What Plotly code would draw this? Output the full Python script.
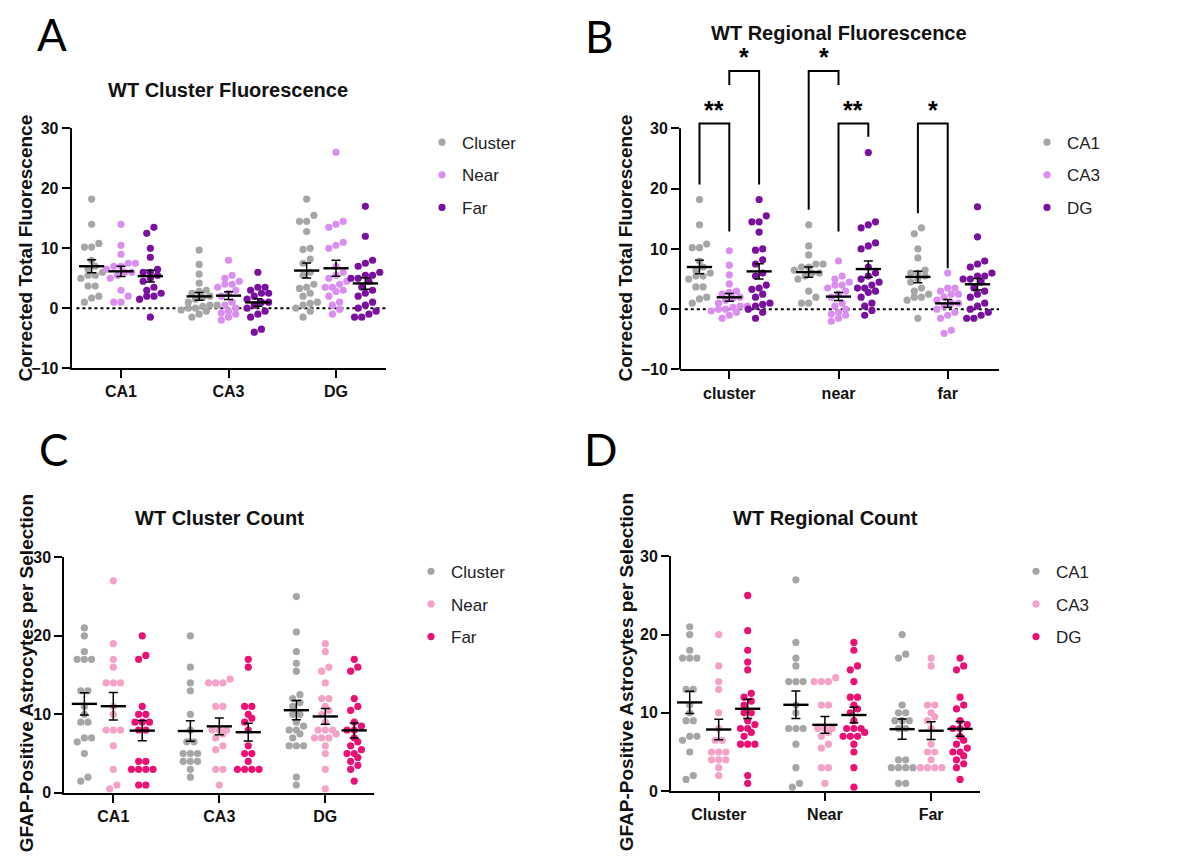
import numpy as np
import plotly.graph_objects as go

# ---------------- data ----------------
REGIONS = ["CA1", "CA3", "DG"]
DISTANCES = ["Cluster", "Near", "Far"]
B_TICKS = ["cluster", "near", "far"]
D_TICKS = ["Cluster", "Near", "Far"]

# Corrected total fluorescence (panels A and B)
FL_CA1_CLUSTER = [18.2, 14, 10.8, 10.2, 10.2, 8, 7, 6.5, 6, 5.5, 5.5, 5, 3.7, 3.7, 2, 1.7, 1]
FL_CA1_NEAR = [14, 10.5, 9, 7.5, 7.5, 7, 7, 6.5, 6, 6, 5.5, 5, 3, 2, 1, 1]
FL_CA1_FAR = [13.5, 12.5, 10, 8.5, 6.5, 6, 6, 5.5, 5, 4.5, 3.5, 3, 2.5, 2, 2, 1.5, -1.5]
FL_CA3_CLUSTER = [9.7, 7.3, 5.7, 4.2, 3, 2.8, 2.5, 2, 1.8, 1.5, 1, 0.5, 0.5, 0.3, 0, 0, -0.3, -0.5, -1, -1.5]
FL_CA3_NEAR = [8, 5.5, 5, 4.5, 4, 4, 3.5, 3, 2.5, 2, 1, 0.5, 0, -0.5, -0.8, -1, -1.5, -2]
FL_CA3_FAR = [6, 3.5, 3.5, 3, 2.5, 2.5, 2, 1.5, 1, 1, 0.5, 0, -0.5, -1, -1.5, -3.5, -4]
FL_DG_CLUSTER = [18.2, 15.5, 14.5, 14.5, 12.8, 10, 9.8, 8.2, 7.5, 6, 5.5, 4, 3.5, 3.3, 2.5, 2, 1, 0.8, 0.5, 0, -0.5, -1.5]
FL_DG_NEAR = [26, 14.5, 14, 13.5, 11, 10.5, 10, 7, 6, 5.5, 5, 4.5, 4, 3.5, 3.5, 3, 2.8, 2, 1, 0.5, -0.2, -1]
FL_DG_FAR = [17, 12, 8, 7.5, 7, 6, 5.5, 5.5, 5, 5, 4.5, 3.5, 3, 2.5, 2, 1, 0.5, 0, -0.5, -1, -1.5, -1.5]

# GFAP-positive astrocytes per selection (panels C and D)
CNT_CA1_CLUSTER = [21, 20, 18, 17, 17, 17, 13, 13, 11, 10, 9, 9, 7, 7, 6.5, 5, 2, 1.5]
CNT_CA1_NEAR = [27, 19, 17, 16, 14, 14, 14, 11, 10, 8, 8, 8, 6, 3, 1, 0.5]
CNT_CA1_FAR = [20, 17.5, 17, 11, 10, 10, 9, 9, 9, 8, 8, 4, 4, 3, 3, 3, 3, 1, 1]
CNT_CA3_CLUSTER = [20, 16, 14, 13, 10, 8, 6.5, 6.5, 5, 5, 5, 4, 4, 4, 3, 2]
CNT_CA3_NEAR = [14.5, 14, 14, 14, 11, 11, 8, 8, 8, 7.5, 7, 6, 5.5, 3, 3, 1]
CNT_CA3_FAR = [17, 16, 11, 11, 10, 9.5, 9, 8, 6, 5, 5, 4, 3, 3, 3, 3]
CNT_DG_CLUSTER = [25, 20.5, 18, 16.5, 15.5, 12.5, 12, 11.5, 11, 10, 10, 9, 8.5, 8, 8, 7.5, 7, 6, 6, 6, 2, 1]
CNT_DG_NEAR = [19, 18, 16, 15.5, 14, 12, 12, 11, 10.5, 10, 9, 8, 8, 8, 7.5, 7, 7, 7, 6, 5, 3, 0.5]
CNT_DG_FAR = [17, 16, 15.5, 12, 11, 10.5, 9, 8.5, 8, 8, 7, 6.5, 6, 5.5, 5, 5, 4.5, 4, 3.5, 3, 1.5]

FLUOR = {
    ("CA1", "Cluster"): FL_CA1_CLUSTER, ("CA1", "Near"): FL_CA1_NEAR, ("CA1", "Far"): FL_CA1_FAR,
    ("CA3", "Cluster"): FL_CA3_CLUSTER, ("CA3", "Near"): FL_CA3_NEAR, ("CA3", "Far"): FL_CA3_FAR,
    ("DG", "Cluster"): FL_DG_CLUSTER, ("DG", "Near"): FL_DG_NEAR, ("DG", "Far"): FL_DG_FAR,
}
COUNT = {
    ("CA1", "Cluster"): CNT_CA1_CLUSTER, ("CA1", "Near"): CNT_CA1_NEAR, ("CA1", "Far"): CNT_CA1_FAR,
    ("CA3", "Cluster"): CNT_CA3_CLUSTER, ("CA3", "Near"): CNT_CA3_NEAR, ("CA3", "Far"): CNT_CA3_FAR,
    ("DG", "Cluster"): CNT_DG_CLUSTER, ("DG", "Near"): CNT_DG_NEAR, ("DG", "Far"): CNT_DG_FAR,
}

# Significance brackets of panel B: (category, group a, group b, top, leg a end, leg b end, label)
SIG_B = [
    ("Cluster", "CA1", "CA3", 30.8, 20.7, 12.9, "**"),
    ("Cluster", "CA3", "DG", 39.5, 37.2, 20.7, "*"),
    ("Near", "CA1", "CA3", 39.5, 16.5, 37.2, "*"),
    ("Near", "CA3", "DG", 30.8, 12.9, 28.6, "**"),
    ("Far", "CA1", "CA3", 30.8, 15.9, 6.8, "*"),
]

# ---------------- styling ----------------
PAGE_MARGIN = 8                      # default body margin of the html page
W, H = 1198 - 2 * PAGE_MARGIN, 859
YOFF, YSC, XOFF = 6.4, 0.981, -1.0   # observed page -> picture mapping
F = "Liberation Sans"
PURPLES = ["#A6A6A6", "#DA8EEF", "#7A109E"]
PINKS = ["#A6A6A6", "#F4A2C8", "#EA1074"]
SUB_OFF = 0.273
DOT = 7.2


def px2x(p):
    return (p - XOFF - PAGE_MARGIN) / W


def px2y(p):
    return 1 - ((p - YOFF) / YSC - PAGE_MARGIN) / H


def swarm(vals, px_per_unit, d=DOT):
    vals = np.asarray(vals, float)
    order = np.argsort(vals)
    offs = np.zeros(len(vals))
    rows, cur = [], [order[0]]
    for idx in order[1:]:
        if (vals[idx] - vals[cur[0]]) * px_per_unit < d * 0.95:
            cur.append(idx)
        else:
            rows.append(cur)
            cur = [idx]
    rows.append(cur)
    for r in rows:
        k = len(r)
        for j, idx in enumerate(r):
            offs[idx] = (j - (k - 1) / 2) * d
    return offs


PANELS = [
    dict(letter="A", n="", title="WT Cluster Fluorescence", ytitle="Corrected Total Fluorescence",
         cats=REGIONS, ticks=REGIONS, subs=DISTANCES, get=lambda c, s: FLUOR[(c, s)], colors=PURPLES,
         c0=120, s=107.5, xpx=(70.7, 385), y0=306.7, ys=6.0, yr=(-10, 30), tv=[-10, 0, 10, 20, 30],
         zero=True, letterpos=(51, 32), titlepos=(227, 88), ytpos=(25, 247), leg=(421, 123)),
    dict(letter="B", n="2", title="WT Regional Fluorescence", ytitle="Corrected Total Fluorescence",
         cats=DISTANCES, ticks=B_TICKS, subs=REGIONS, get=lambda c, s: FLUOR[(s, c)], colors=PURPLES,
         c0=728.3, s=109.2, xpx=(679, 998), y0=307.7, ys=6.033, yr=(-10, 42), tv=[-10, 0, 10, 20, 30],
         zero=True, letterpos=(598, 34), titlepos=(838, 31), ytpos=(625, 247), leg=(1026, 123)),
    dict(letter="C", n="3", title="WT Cluster Count", ytitle="GFAP-Positive Astrocytes per Selection",
         cats=REGIONS, ticks=REGIONS, subs=DISTANCES, get=lambda c, s: COUNT[(c, s)], colors=PINKS,
         c0=112.3, s=106, xpx=(63.3, 373), y0=791.7, ys=7.857, yr=(0, 30), tv=[0, 10, 20, 30],
         zero=False, letterpos=(52, 448), titlepos=(218, 517), ytpos=(25, 672), leg=(410, 552.5)),
    dict(letter="D", n="4", title="WT Regional Count", ytitle="GFAP-Positive Astrocytes per Selection",
         cats=DISTANCES, ticks=D_TICKS, subs=REGIONS, get=lambda c, s: COUNT[(s, c)], colors=PINKS,
         c0=717.7, s=106.2, xpx=(670, 979), y0=790, ys=7.833, yr=(0, 30), tv=[0, 10, 20, 30],
         zero=False, letterpos=(599, 448), titlepos=(824, 517), ytpos=(625, 671), leg=(1015, 552.5)),
]

fig = go.Figure()
shapes, annotations = [], []
layout = dict(width=W, height=H, margin=dict(l=0, r=0, t=0, b=0), paper_bgcolor="white",
              plot_bgcolor="white", showlegend=True)

for P in PANELS:
    n = P["n"]
    xa, ya = "x" + n, "y" + n
    legname = "legend" + n
    xr = ((P["xpx"][0] - P["c0"]) / P["s"], (P["xpx"][1] - P["c0"]) / P["s"])
    ydom = (px2y(P["y0"] - P["ys"] * P["yr"][0]), px2y(P["y0"] - P["ys"] * P["yr"][1]))
    layout["xaxis" + n] = dict(domain=[px2x(P["xpx"][0]), px2x(P["xpx"][1])], range=list(xr),
                               anchor=ya, tickmode="array", tickvals=[0, 1, 2], ticktext=P["ticks"],
                               ticks="outside", ticklen=8, tickwidth=2, tickcolor="black",
                               showline=True, linecolor="black", linewidth=2, showgrid=False,
                               zeroline=False, fixedrange=True,
                               tickfont=dict(family=F, size=16, color="#111", weight="bold"))
    layout["yaxis" + n] = dict(domain=list(ydom), range=list(P["yr"]), anchor=xa,
                               tickmode="array", tickvals=P["tv"], ticks="outside", ticklen=8,
                               tickwidth=2, tickcolor="black", showline=(P["letter"] != "B"),
                               linecolor="black", linewidth=2, showgrid=False, zeroline=False,
                               fixedrange=True,
                               tickfont=dict(family=F, size=16, color="#111", weight="bold"))
    if P["letter"] == "B":
        shapes.append(dict(type="line", xref=xa + " domain", yref=ya, x0=0, x1=0,
                           y0=P["tv"][0], y1=P["tv"][-1], line=dict(color="black", width=2)))
    if P["zero"]:
        shapes.append(dict(type="line", xref=xa + " domain", yref=ya, x0=0.015, x1=1, y0=0, y1=0,
                           line=dict(color="black", width=2, dash="dot"), layer="below"))
    layout[legname] = dict(x=px2x(P["leg"][0]), y=px2y(P["leg"][1]), xanchor="left", yanchor="top",
                           font=dict(family=F, size=17, color="#222"), bgcolor="rgba(0,0,0,0)",
                           tracegroupgap=7.5, itemclick=False, itemdoubleclick=False)
    stats = []
    for si, sub in enumerate(P["subs"]):
        xs, ys = [], []
        for ci, cat in enumerate(P["cats"]):
            vals = P["get"](cat, sub)
            offs = swarm(vals, P["ys"])
            base = ci + (si - 1) * SUB_OFF
            xs += list(base + offs / P["s"])
            ys += list(vals)
            arr = np.asarray(vals, float)
            stats.append((base, arr.mean(), arr.std(ddof=1) / np.sqrt(len(arr))))
        fig.add_trace(go.Scatter(x=xs, y=ys, mode="markers", name=sub, xaxis=xa, yaxis=ya,
                                 legend=legname, legendgroup=P["letter"] + sub, cliponaxis=False,
                                 marker=dict(color=P["colors"][si], size=DOT, line=dict(width=0)),
                                 hoverinfo="y"))
    fig.add_trace(go.Scatter(x=[s[0] for s in stats], y=[s[1] for s in stats], mode="markers",
                             xaxis=xa, yaxis=ya, showlegend=False, cliponaxis=False,
                             marker=dict(symbol="line-ew", size=18, color="black",
                                         line=dict(width=2.4, color="black")),
                             error_y=dict(type="data", array=[s[2] for s in stats], color="black",
                                          thickness=1.5, width=4.5)))
    annotations.append(dict(text=P["letter"], x=px2x(P["letterpos"][0]), y=px2y(P["letterpos"][1]),
                            xref="paper", yref="paper", showarrow=False, xanchor="center",
                            yanchor="middle", font=dict(family="Lato", size=44, color="black")))
    annotations.append(dict(text="<b>%s</b>" % P["title"], x=px2x(P["titlepos"][0]),
                            y=px2y(P["titlepos"][1]), xref="paper", yref="paper", showarrow=False,
                            xanchor="center", yanchor="middle",
                            font=dict(family=F, size=20, color="#111")))
    annotations.append(dict(text="<b>%s</b>" % P["ytitle"], x=px2x(P["ytpos"][0]),
                            y=px2y(P["ytpos"][1]), xref="paper", yref="paper", showarrow=False,
                            textangle=-90, xanchor="center", yanchor="middle",
                            font=dict(family=F, size=19, color="#111")))
    if P["letter"] == "B":
        for cat, ga, gb, top, la, lb, lab in SIG_B:
            ci = P["cats"].index(cat)
            xa_ = ci + (P["subs"].index(ga) - 1) * SUB_OFF
            xb_ = ci + (P["subs"].index(gb) - 1) * SUB_OFF
            shapes.append(dict(type="path", xref=xa, yref=ya,
                               path="M %f,%f L %f,%f L %f,%f L %f,%f" % (xa_, la, xa_, top, xb_, top, xb_, lb),
                               line=dict(color="black", width=2)))
            annotations.append(dict(text="<b>%s</b>" % lab, x=(xa_ + xb_) / 2, y=top, xref=xa, yref=ya,
                                    showarrow=False, xanchor="center", yanchor="bottom", yshift=4,
                                    height=22, valign="top",
                                    font=dict(family=F, size=25, color="black")))

layout["shapes"] = shapes
layout["annotations"] = annotations
fig.update_layout(**layout)
fig.write_html("out.html", config={"displayModeBar": False})
